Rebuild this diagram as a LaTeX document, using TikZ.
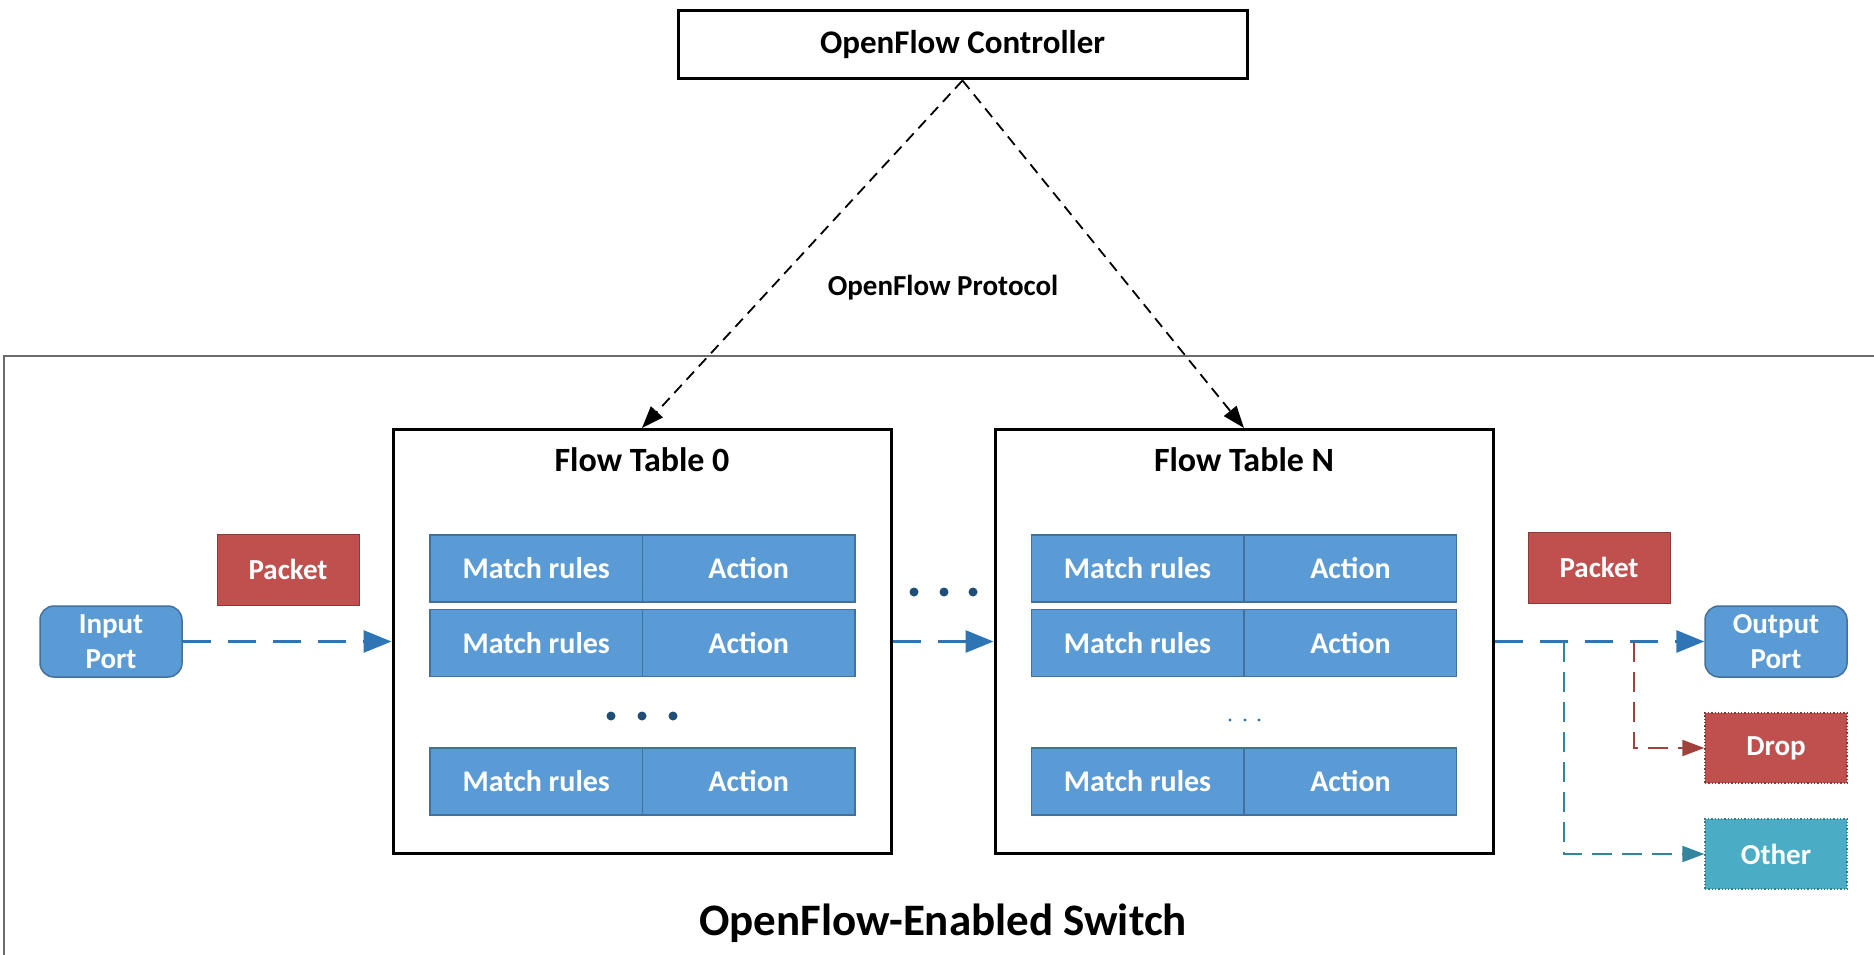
\documentclass[tikz,border=0pt]{standalone}
\usepackage{fontspec}
\setmainfont{Carlito}
\usetikzlibrary{arrows.meta,positioning}

\definecolor{cellblue}{HTML}{5B9BD5}
\definecolor{celledge}{HTML}{41719C}
\definecolor{flowblue}{HTML}{2E75B6}
\definecolor{dotblue}{HTML}{1F4E79}
\definecolor{pktred}{HTML}{C0504D}
\definecolor{pktedge}{HTML}{8C3836}
\definecolor{dropline}{HTML}{A0413C}
\definecolor{othfill}{HTML}{4BACC6}
\definecolor{othedge}{HTML}{357D91}
\definecolor{othline}{HTML}{31859C}
\definecolor{switchgray}{HTML}{6B6B6B}

\tikzset{
  boxtitle/.style={font=\bfseries\fontsize{34}{40}\selectfont, text=black},
  tablebox/.style={draw=black, line width=3pt, minimum width=498pt, minimum height=424pt, inner sep=0pt},
  ctrlbox/.style={draw=black, line width=3pt, minimum width=569pt, minimum height=68pt, inner sep=0pt,
                  font=\bfseries\fontsize{33}{40}\selectfont},
  cell/.style={fill=cellblue, draw=celledge, line width=1.2pt, minimum width=212.5pt, minimum height=67pt,
               inner sep=0pt, text=white, font=\bfseries\fontsize{30}{36}\selectfont},
  port/.style={fill=cellblue, draw=celledge, line width=1.5pt, rounded corners=14pt, minimum width=142pt,
               minimum height=71pt, inner sep=0pt, align=center, text=white,
               font=\bfseries\fontsize{29}{35}\selectfont},
  packetbox/.style={fill=pktred, draw=pktedge, line width=1pt, minimum width=142pt, minimum height=71pt,
                    inner sep=0pt, text=white, font=\bfseries\fontsize{29}{35}\selectfont},
  dropbox/.style={fill=pktred, draw=pktedge, line width=1.3pt, dotted, minimum width=142pt, minimum height=70pt,
                  inner sep=0pt, text=white, font=\bfseries\fontsize{29}{35}\selectfont},
  otherbox/.style={fill=othfill, draw=othedge, line width=1.3pt, dotted, minimum width=142pt, minimum height=70pt,
                   inner sep=0pt, text=white, font=\bfseries\fontsize{29}{35}\selectfont},
  ctrlflow/.style={draw=black, line width=1.8pt, dash pattern=on 11pt off 7pt,
                   -{Triangle[length=22pt, width=16pt]}},
  dataflow/.style={draw=flowblue, line width=3pt, dash pattern=on 28pt off 17pt,
                   -{Triangle[length=28pt, width=22pt]}},
  dropflow/.style={draw=dropline, line width=2pt, dash pattern=on 20pt off 10pt,
                   -{Triangle[length=22pt, width=16pt]}},
  otherflow/.style={draw=othline, line width=2pt, dash pattern=on 20pt off 10pt,
                    -{Triangle[length=22pt, width=16pt]}},
  bigdot/.style={fill=dotblue, draw=none, circle, minimum size=9pt, inner sep=0pt},
  smalldot/.style={fill=flowblue, draw=none, circle, minimum size=3.4pt, inner sep=0pt},
}

\begin{document}
\begin{tikzpicture}[x=1pt, y=-1pt]
\useasboundingbox (0,0) rectangle (1874,955);

% switch enclosure (open to the right and bottom)
\draw[switchgray, line width=1.5pt] (1874,356) -- (4,356) -- (4,955);
\node[font=\bfseries\fontsize{45}{54}\selectfont] (swlabel) at (943,923) {OpenFlow-Enabled Switch};

% controller
\node[ctrlbox] (ctrl) at (962.5,45) {OpenFlow Controller};
\node[font=\bfseries\fontsize{29}{35}\selectfont] (proto) at (943,288) {OpenFlow Protocol};

% flow tables
\node[tablebox] (ft0) at (642,641.5) {};
\node[tablebox] (ftn) at (1244,641.5) {};
\node[boxtitle] (ft0title) at (642,460) {Flow Table 0};
\node[boxtitle] (ftntitle) at (1244,460) {Flow Table N};

% table 0 entries
\node[cell] (t0m1) at (536.25,568.5) {Match rules};
\node[cell] (t0a1) at (748.75,568.5) {Action};
\node[cell] (t0m2) at (536.25,643) {Match rules};
\node[cell] (t0a2) at (748.75,643) {Action};
\node[cell] (t0m3) at (536.25,781.5) {Match rules};
\node[cell] (t0a3) at (748.75,781.5) {Action};
\node[bigdot] (t0d1) at (611,716) {};
\node[bigdot] (t0d2) at (642,716) {};
\node[bigdot] (t0d3) at (673,716) {};

% table N entries
\node[cell] (tnm1) at (1137.5,568.5) {Match rules};
\node[cell] (tna1) at (1350.5,568.5) {Action};
\node[cell] (tnm2) at (1137.5,643) {Match rules};
\node[cell] (tna2) at (1350.5,643) {Action};
\node[cell] (tnm3) at (1137.5,781.5) {Match rules};
\node[cell] (tna3) at (1350.5,781.5) {Action};
\node[smalldot] (tnd1) at (1230,720) {};
\node[smalldot] (tnd2) at (1245,720) {};
\node[smalldot] (tnd3) at (1259,720) {};

% tables in between
\node[bigdot] (md1) at (914,592) {};
\node[bigdot] (md2) at (944,592) {};
\node[bigdot] (md3) at (973,592) {};

% ports and packets
\node[port] (inport) at (111,641.5) {Input\\Port};
\node[port] (outport) at (1776,641.5) {Output\\Port};
\node[packetbox] (pkt1) at (288,569.5) {Packet};
\node[packetbox] (pkt2) at (1599,567.5) {Packet};
\node[dropbox] (drop) at (1776,748) {Drop};
\node[otherbox] (other) at (1776,854) {Other};

% controller links
\draw[ctrlflow] (ctrl.south) -- (ft0.north);
\draw[ctrlflow] (ctrl.south) -- (ftn.north);

% packet path
\draw[dataflow] (inport.east) -- (ft0.west);
\draw[dataflow] (ft0.east) -- (ftn.west);
\draw[dataflow] (ftn.east) -- (outport.west);

% alternative outcomes
\coordinate (dropfork) at (1634,641.5);
\coordinate (otherfork) at (1564,641.5);
\draw[dropflow] (dropfork) |- (drop.west);
\draw[otherflow] (otherfork) |- (other.west);
\end{tikzpicture}
\end{document}
